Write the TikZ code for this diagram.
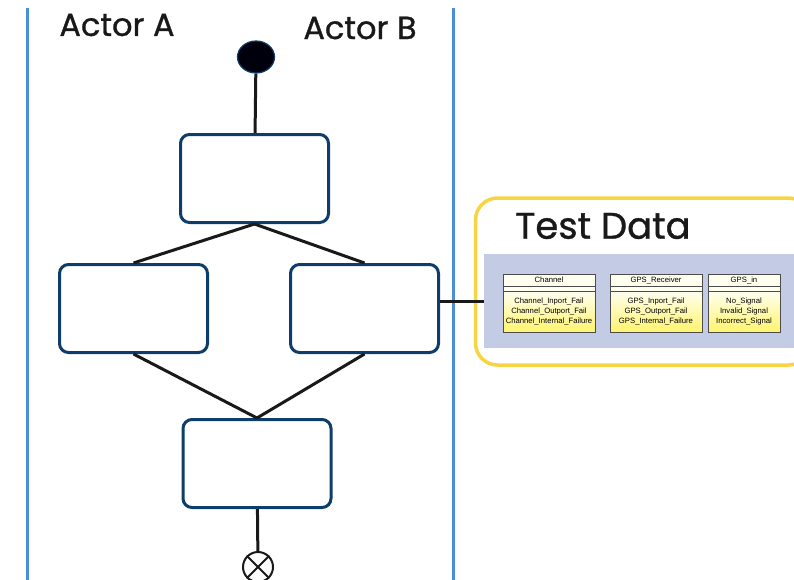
\documentclass[tikz,border=0pt]{standalone}
\usepackage{fontspec}
\newfontfamily\headfont{Poppins}[FakeBold=0.9]
\newfontfamily\umlfont{Liberation Sans}
\usetikzlibrary{positioning,shapes.geometric}

\definecolor{laneblue}{HTML}{4A90D9}
\definecolor{boxblue}{HTML}{0E3D6B}
\definecolor{testyellow}{HTML}{F7D444}
\definecolor{panelgrey}{HTML}{C3CCE4}
\definecolor{umlcream}{HTML}{FFFFF0}
\definecolor{umlyellow}{HTML}{FFF46E}

\begin{document}
\begin{tikzpicture}[x=1pt, y=-1pt,
    lane/.style={draw=laneblue, line width=3pt},
    actor/.style={font=\headfont\fontsize{32}{34}\selectfont, text=black!90},
    action/.style={draw=boxblue, line width=3pt, rounded corners=9pt, minimum width=148pt, minimum height=88pt},
    flow/.style={line width=3pt, black!90},
    umlhead/.style={draw=black!70, fill=umlcream, line width=0.8pt, inner sep=0pt, outer sep=0pt, font=\umlfont\fontsize{7.7}{8}\selectfont},
    umlbody/.style={draw=black!70, top color=umlcream, bottom color=umlyellow, line width=0.8pt, inner sep=0pt, outer sep=0pt, align=center, font=\umlfont\fontsize{7.7}{10}\selectfont}
]
    \useasboundingbox (0,0) rectangle (794,579);

    % swimlanes
    \coordinate (laneA-top) at (27,8);
    \coordinate (laneA-bot) at (27,585);
    \coordinate (laneB-top) at (453,8);
    \coordinate (laneB-bot) at (453,585);
    \draw[lane] (laneA-top) -- (laneA-bot);
    \draw[lane] (laneB-top) -- (laneB-bot);
    \node[actor] (actorA) at (117,25) {Actor A};
    \node[actor] (actorB) at (360,28) {Actor B};

    % activity flow
    \node[ellipse, draw=boxblue, fill=black!95!blue, line width=1.2pt, minimum width=37pt, minimum height=32pt] (start) at (256,57) {};
    \node[action] (prep) at (254.5,178.5) {};
    \node[action] (left) at (133.5,308.5) {};
    \node[action] (right) at (364.5,308.5) {};
    \node[action] (merge) at (257,463.5) {};
    \node[circle, draw=black!90, line width=2pt, minimum size=30pt, inner sep=0pt] (finish) at (258,567) {};

    \draw[flow] (start) -- (prep);
    \draw[flow] (prep.south) -- (left.north);
    \draw[flow] (prep.south) -- (right.north);
    \draw[flow] (left.south) -- (merge.north);
    \draw[flow] (right.south) -- (merge.north);
    \draw[flow] (merge) -- (finish);
    \draw[line width=2pt, black!90] (finish.45) -- (finish.225) (finish.135) -- (finish.315);

    % test data
    \node[draw=testyellow, line width=3.5pt, rounded corners=22pt, minimum width=335pt, minimum height=167pt] (testdata) at (643,281.5) {};
    \node[font=\headfont\fontsize{37}{39}\selectfont, text=black!90] (testtitle) at (603,226) {Test Data};
    \node[fill=panelgrey, minimum width=316pt, minimum height=94pt, inner sep=0pt] (panel) at (642,301) {};
    \draw[flow] (right.east |- panel.west) -- (panel.west);

    \foreach \cname/\cx/\cw/\ctitle/\crows in {
        chan/549/92/Channel/{Channel\_Inport\_Fail\\Channel\_Outport\_Fail\\Channel\_Internal\_Failure},
        recv/656/92/GPS\_Receiver/{GPS\_Inport\_Fail\\GPS\_Outport\_Fail\\GPS\_Internal\_Failure},
        gpsin/744/72/GPS\_in/{No\_Signal\\Invalid\_Signal\\Incorrect\_Signal}}{
        \node[umlhead, minimum width=\cw pt, minimum height=12pt] (\cname-head) at (\cx,280) {\ctitle};
        \node[umlhead, minimum width=\cw pt, minimum height=5pt, below=0pt of \cname-head] (\cname-mid) {};
        \node[umlbody, minimum width=\cw pt, minimum height=41pt, below=0pt of \cname-mid] (\cname-body) {\crows};
    }
\end{tikzpicture}
\end{document}
